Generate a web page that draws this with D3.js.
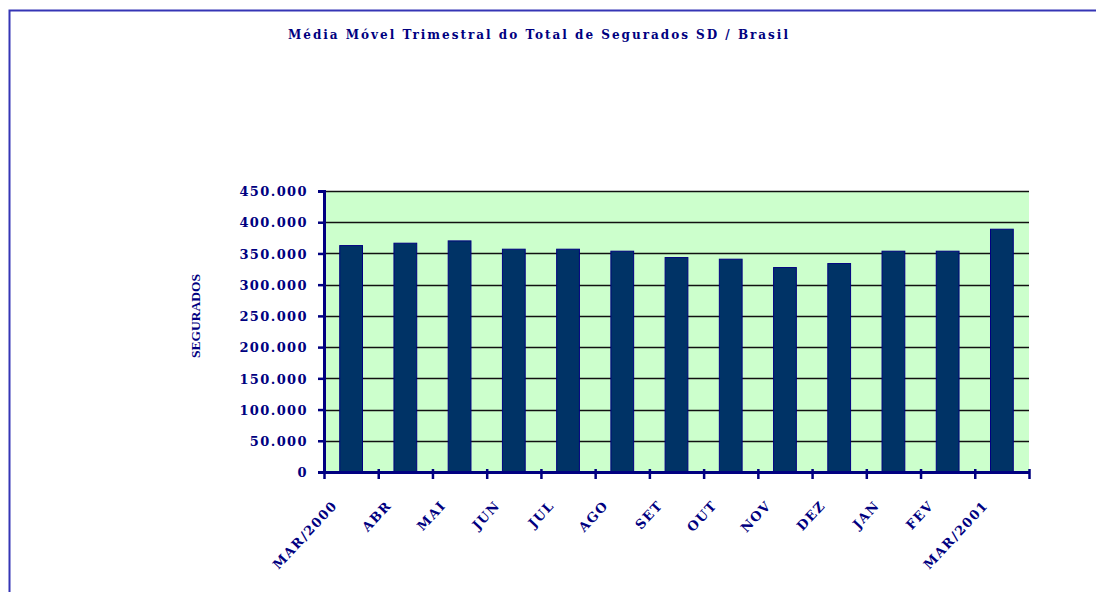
<!DOCTYPE html>
<html>
<head>
<meta charset="utf-8">
<script src="https://cdn.jsdelivr.net/npm/d3@7"></script>
<style>
  body { margin: 0; background: #fff; }
  svg text { font-family: "DejaVu Serif", "Liberation Serif", serif; font-weight: bold; fill: #000080; }
</style>
</head>
<body>
<script>
// dados
var meses = ["MAR/2000", "ABR", "MAI", "JUN", "JUL", "AGO", "SET", "OUT", "NOV", "DEZ", "JAN", "FEV", "MAR/2001"];
var segurados = [362600, 366400, 370100, 356800, 356800, 353600, 343400, 340800, 327400, 333800, 353600, 353600, 388800];
var yTicks = [0, 50000, 100000, 150000, 200000, 250000, 300000, 350000, 400000, 450000];
var titulo = "Média Móvel Trimestral do Total de Segurados SD / Brasil";
var yTitulo = "SEGURADOS";

var width = 1096, height = 592;
var plotLeft = 324, plotRight = 1029, plotTop = 191, plotBottom = 472;

var svg = d3.select("body").append("svg")
    .attr("width", width)
    .attr("height", height);

// moldura
svg.append("path")
    .attr("d", "M9.5," + height + "V10.5H" + width)
    .attr("fill", "none")
    .attr("stroke", "#3535b5")
    .attr("stroke-width", 2);

// titulo
svg.append("text")
    .attr("x", 539).attr("y", 39)
    .attr("text-anchor", "middle")
    .style("font-size", "12px")
    .style("letter-spacing", "2px")
    .text(titulo);

var x = d3.scaleBand()
    .domain(meses)
    .range([plotLeft, plotRight])
    .paddingInner(0.58)
    .paddingOuter(0.29);

var y = d3.scaleLinear()
    .domain([0, 450000])
    .range([plotBottom, plotTop]);

// area do grafico
svg.append("rect")
    .attr("x", plotLeft).attr("y", plotTop)
    .attr("width", plotRight - plotLeft).attr("height", plotBottom - plotTop)
    .attr("fill", "#ccffcc");

// linhas de grade
svg.append("g")
    .selectAll("line")
    .data(yTicks.slice(1))
    .enter()
    .append("line")
    .attr("x1", plotLeft).attr("x2", plotRight)
    .attr("y1", function (d) { return Math.round(y(d)) + 0.5; })
    .attr("y2", function (d) { return Math.round(y(d)) + 0.5; })
    .attr("stroke", "#111")
    .attr("stroke-width", 1.3);

// barras
svg.append("g")
    .selectAll("rect")
    .data(segurados)
    .enter()
    .append("rect")
    .attr("x", function (d, i) { return x(meses[i]); })
    .attr("y", function (d) { return y(d); })
    .attr("width", x.bandwidth())
    .attr("height", function (d) { return plotBottom - y(d); })
    .attr("fill", "#003366")
    .attr("stroke", "#000080")
    .attr("stroke-width", 1);

// eixo y
var fmt = function (d) { return d3.format(",")(d).replace(/,/g, "."); };
var yAxis = svg.append("g")
    .attr("transform", "translate(" + plotLeft + ",0)")
    .call(d3.axisLeft(y).tickValues(yTicks).tickFormat(fmt).tickSize(6).tickPadding(10));
yAxis.select(".domain").attr("stroke", "#000080").attr("stroke-width", 3);
yAxis.selectAll(".tick line").attr("stroke", "#000080").attr("stroke-width", 2.5);
yAxis.selectAll(".tick text")
    .style("font-size", "13px")
    .style("letter-spacing", "1.4px")
    .attr("dy", "0.36em");

// eixo x: marcas nos limites das categorias
var idx = d3.scaleLinear().domain([0, meses.length]).range([plotLeft, plotRight]);
var xAxis = svg.append("g")
    .attr("transform", "translate(0," + plotBottom + ")")
    .call(d3.axisBottom(idx).ticks(meses.length).tickFormat("").tickSizeInner(7).tickSizeOuter(0));
xAxis.select(".domain").attr("stroke", "#000080").attr("stroke-width", 3);
xAxis.selectAll(".tick line").attr("stroke", "#000080").attr("stroke-width", 2.5).attr("y1", -3);

// rotulos das categorias
svg.append("g")
    .selectAll("text")
    .data(meses)
    .enter()
    .append("text")
    .attr("transform", function (d) {
        return "translate(" + (x(d) + x.bandwidth() / 2 - 13) + ",506) rotate(-47)";
    })
    .attr("text-anchor", "end")
    .style("font-size", "13px")
    .style("letter-spacing", "1.4px")
    .text(function (d) { return d; });

// titulo do eixo y
svg.append("text")
    .attr("transform", "translate(200,316) rotate(-90)")
    .attr("text-anchor", "middle")
    .style("font-size", "13.5px")
    .style("font-family", "'Liberation Serif', serif")
    .text(yTitulo);
</script>
</body>
</html>
